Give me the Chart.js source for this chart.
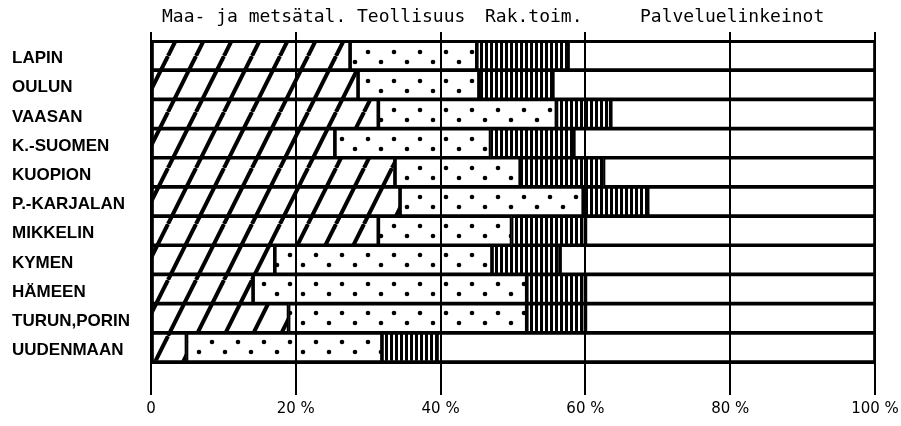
<!DOCTYPE html>
<html>
<head>
<meta charset="utf-8">
<script src="https://cdn.jsdelivr.net/npm/chart.js@4"></script>
<style>
  html, body { margin: 0; padding: 0; background: #fff; }
  #wrap { width: 901px; height: 426px; position: relative; }
</style>
</head>
<body>
<div id="wrap"><canvas id="c" width="901" height="426"></canvas></div>
<script>
// ---- data (percent of employed) ----
const provinces = ['LAPIN', 'OULUN', 'VAASAN', 'K.-SUOMEN', 'KUOPION', 'P.-KARJALAN', 'MIKKELIN', 'KYMEN', 'HÄMEEN', 'TURUN,PORIN', 'UUDENMAAN'];
const agriForestry = [27.5, 28.6, 31.4, 25.4, 33.7, 34.4, 31.4, 17.1, 14.1, 19.0, 4.9];
const industry     = [17.5, 16.7, 24.6, 21.5, 17.3, 25.3, 18.4, 30.0, 37.8, 32.9, 27.0];
const construction = [12.6, 10.2, 7.5, 11.5, 11.5, 8.9, 10.2, 9.4, 8.1, 8.1, 7.6];
const services     = [42.4, 44.5, 36.5, 41.6, 37.5, 31.4, 40.0, 43.5, 40.0, 40.0, 60.5];
const seriesNames  = ['Maa- ja metsätal.', 'Teollisuus', 'Rak.toim.', 'Palveluelinkeinot'];
const tickValues   = [0, 20, 40, 60, 80, 100];

// ---- patterns ----
function makeTile(w, h, draw) {
  const cv = document.createElement('canvas');
  cv.width = w; cv.height = h;
  const g = cv.getContext('2d');
  draw(g, w, h);
  return document.getElementById('c').getContext('2d').createPattern(cv, 'repeat');
}
const hatch = makeTile(28, 56, (g, w, h) => {
  g.strokeStyle = '#000'; g.lineWidth = 4; g.lineCap = 'butt';
  for (let k = -1; k <= 1; k++) {
    g.beginPath(); g.moveTo(k * w, h); g.lineTo(k * w + w, 0); g.stroke();
  }
});
const dots = makeTile(26, 29, (g) => {
  g.fillStyle = '#000';
  [[4, 23], [17, 4]].forEach(([x, y]) => { g.beginPath(); g.arc(x, y, 2.3, 0, Math.PI * 2); g.fill(); });
});
const stripes = makeTile(5, 4, (g) => { g.fillStyle = '#000'; g.fillRect(0, 0, 3, 4); });

const bg = {
  id: 'bg',
  beforeDraw(chart) {
    const ctx = chart.ctx; ctx.save(); ctx.fillStyle = '#fff';
    ctx.fillRect(0, 0, chart.width, chart.height); ctx.restore();
  }
};
const header = {
  id: 'header',
  afterDraw(chart) {
    const ctx = chart.ctx; ctx.save();
    ctx.font = '18px "DejaVu Sans Mono"'; ctx.fillStyle = '#000';
    ctx.textBaseline = 'middle'; ctx.textAlign = 'left';
    const xs = [162, 357, 485, 640];
    seriesNames.forEach((t, i) => ctx.fillText(t, xs[i], 17));
    ctx.restore();
  }
};

const common = { borderColor: '#000', borderWidth: 1.5, borderSkipped: false, categoryPercentage: 1, barPercentage: 1 };
new Chart(document.getElementById('c'), {
  type: 'bar',
  data: {
    labels: provinces,
    datasets: [
      Object.assign({ label: seriesNames[0], data: agriForestry, backgroundColor: hatch }, common),
      Object.assign({ label: seriesNames[1], data: industry, backgroundColor: dots }, common),
      Object.assign({ label: seriesNames[2], data: construction, backgroundColor: stripes }, common),
      Object.assign({ label: seriesNames[3], data: services, backgroundColor: 'rgba(0,0,0,0)' }, common)
    ]
  },
  options: {
    indexAxis: 'y',
    responsive: false,
    animation: false,
    layout: { padding: { left: 12, top: 32, right: 26, bottom: 3 } },
    plugins: { legend: { display: false }, tooltip: { enabled: false }, title: { display: false } },
    scales: {
      x: {
        type: 'linear', stacked: true, min: 0, max: 100, position: 'bottom',
        afterBuildTicks: (s) => { s.ticks = tickValues.map(v => ({ value: v })); },
        afterFit: (s) => { s.paddingLeft = 0; s.paddingRight = 0; },
        grid: { color: '#000', lineWidth: 2, tickLength: 33, drawTicks: true },
        border: { display: true, color: '#000', width: 3 },
        ticks: {
          padding: 5, maxRotation: 0, color: '#000',
          font: { family: 'DejaVu Sans', size: 15 },
          callback: (v) => v === 0 ? '0' : v + ' %'
        }
      },
      x2: {
        type: 'linear', min: 0, max: 100, position: 'top',
        afterBuildTicks: (s) => { s.ticks = tickValues.map(v => ({ value: v })); },
        grid: { color: '#000', lineWidth: 2, tickLength: 9, drawOnChartArea: false },
        border: { display: true, color: '#000', width: 3 },
        ticks: { display: false }
      },
      y: {
        stacked: true,
        afterFit: (s) => { s.width = 139; },
        grid: { display: false },
        border: { display: false },
        ticks: {
          crossAlign: 'far', color: '#000', labelOffset: 3,
          font: { family: 'Liberation Sans', size: 17, weight: 'bold' }
        }
      }
    }
  },
  plugins: [bg, header]
});
</script>
</body>
</html>
